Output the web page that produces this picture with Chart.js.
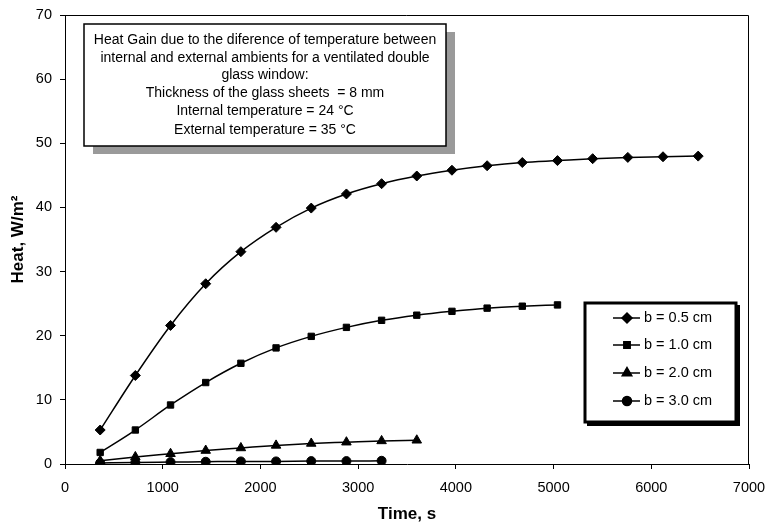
<!DOCTYPE html>
<html>
<head>
<meta charset="utf-8">
<script src="https://cdn.jsdelivr.net/npm/chart.js@4/dist/chart.umd.min.js"></script>
<style>
  html, body { margin: 0; padding: 0; background: #fff; }
  #wrap { width: 770px; height: 528px; position: relative; }
</style>
</head>
<body>
<div id="wrap"><canvas id="chart" width="770" height="528"></canvas></div>
<script>
// Time steps (s) at which heat gain was evaluated
const timeS = [360, 720, 1080, 1440, 1800, 2160, 2520, 2880, 3240, 3600,
               3960, 4320, 4680, 5040, 5400, 5760, 6120, 6480];

// Heat gain (W/m²) for each air-gap width b
const heatB05 = [5.3, 13.8, 21.6, 28.1, 33.1, 36.9, 39.9, 42.1, 43.7, 44.9,
                 45.8, 46.5, 47.0, 47.3, 47.6, 47.8, 47.9, 48.0];
const heatB10 = [1.8, 5.3, 9.2, 12.7, 15.7, 18.1, 19.9, 21.3, 22.4, 23.2,
                 23.8, 24.3, 24.6, 24.8];
const heatB20 = [0.5, 1.1, 1.6, 2.1, 2.5, 2.9, 3.2, 3.4, 3.6, 3.7];
const heatB30 = [0.15, 0.25, 0.3, 0.35, 0.4, 0.4, 0.45, 0.45, 0.5];

const seriesLabels = ['b = 0.5 cm', 'b = 1.0 cm', 'b = 2.0 cm', 'b = 3.0 cm'];
const xTicks = [0, 1000, 2000, 3000, 4000, 5000, 6000, 7000];
const yTicks = [0, 10, 20, 30, 40, 50, 60, 70];

const noteLines = [
  'Heat Gain due to the diference of temperature between',
  'internal and external ambients for a ventilated double',
  'glass window:',
  'Thickness of the glass sheets  = 8 mm',
  'Internal temperature = 24 °C',
  'External temperature = 35 °C'
];

const FONT = '"Liberation Sans", Arial, Helvetica, sans-serif';

function pts(vals) {
  return vals.map((v, i) => ({ x: timeS[i], y: v }));
}

const styles = [
  { pointStyle: 'rectRot', radius: 5 },
  { pointStyle: 'rect', radius: 4.5 },
  { pointStyle: 'triangle', radius: 5.5 },
  { pointStyle: 'circle', radius: 4.5 }
];

const datasets = [heatB05, heatB10, heatB20, heatB30].map((vals, k) => ({
  label: seriesLabels[k],
  data: pts(vals),
  borderColor: '#000',
  backgroundColor: '#000',
  borderWidth: 1.5,
  pointStyle: styles[k].pointStyle,
  pointRadius: styles[k].radius,
  pointBackgroundColor: '#000',
  pointBorderColor: '#000',
  pointBorderWidth: 1,
  cubicInterpolationMode: 'monotone',
  fill: false
}));

// Plot frame, note box and legend box
const decorations = {
  id: 'decorations',
  afterDatasetsDraw(chart) {
    const { ctx, chartArea: a } = chart;
    ctx.save();
    // top and right frame of the plot area
    ctx.strokeStyle = '#000';
    ctx.lineWidth = 1;
    ctx.beginPath();
    ctx.moveTo(a.left, a.top + 0.5);
    ctx.lineTo(a.right - 0.5, a.top + 0.5);
    ctx.lineTo(a.right - 0.5, a.bottom);
    ctx.stroke();

    // note box with grey drop shadow
    const nb = { x: 84, y: 24, w: 362, h: 122 };
    ctx.fillStyle = '#9a9a9a';
    ctx.fillRect(nb.x + 9, nb.y + 8, nb.w, nb.h);
    ctx.fillStyle = '#fff';
    ctx.fillRect(nb.x, nb.y, nb.w, nb.h);
    ctx.lineWidth = 1.5;
    ctx.strokeStyle = '#000';
    ctx.strokeRect(nb.x, nb.y, nb.w, nb.h);
    ctx.fillStyle = '#000';
    ctx.font = '14px ' + FONT;
    ctx.textAlign = 'center';
    ctx.textBaseline = 'middle';
    const lineY = [40, 58, 75, 93, 111, 130];
    noteLines.forEach((t, i) => ctx.fillText(t, nb.x + nb.w / 2, lineY[i]));

    // legend box with heavy border
    const lb = { x: 585, y: 303, w: 151, h: 119 };
    ctx.fillStyle = '#000';
    ctx.fillRect(lb.x + 2, lb.y + 2, lb.w + 2, lb.h + 2);
    ctx.fillStyle = '#fff';
    ctx.fillRect(lb.x, lb.y, lb.w, lb.h);
    ctx.lineWidth = 3;
    ctx.strokeStyle = '#000';
    ctx.strokeRect(lb.x, lb.y, lb.w, lb.h);

    const rowY = [318, 345, 373, 401];
    chart.data.datasets.forEach((ds, i) => {
      const y = rowY[i];
      ctx.strokeStyle = '#000';
      ctx.lineWidth = 1.5;
      ctx.beginPath();
      ctx.moveTo(613, y);
      ctx.lineTo(640, y);
      ctx.stroke();
      Chart.helpers.drawPoint(ctx, {
        pointStyle: ds.pointStyle,
        radius: ds.pointRadius,
        rotation: 0,
        borderWidth: 1
      }, 627, y);
      ctx.fillStyle = '#000';
      ctx.fill();
      ctx.font = '14.5px ' + FONT;
      ctx.textAlign = 'left';
      ctx.textBaseline = 'middle';
      ctx.fillText(ds.label, 644, y);
    });
    ctx.restore();
  }
};

new Chart(document.getElementById('chart'), {
  type: 'line',
  data: { datasets },
  options: {
    responsive: false,
    animation: false,
    layout: { padding: { top: 15, right: 21, left: 0, bottom: 0 } },
    plugins: {
      legend: { display: false },
      tooltip: { enabled: false }
    },
    scales: {
      x: {
        type: 'linear',
        min: 0,
        max: 7000,
        afterBuildTicks(s) { s.ticks = xTicks.map(v => ({ value: v })); },
        afterFit(s) { s.height = 64; s.paddingLeft = 0; s.paddingRight = 0; },
        grid: { drawOnChartArea: false, drawTicks: true, tickLength: 5, color: '#000' },
        border: { color: '#000', width: 1 },
        ticks: {
          color: '#000',
          font: { family: FONT, size: 14.5 },
          padding: 10,
          maxRotation: 0,
          callback: v => String(v)
        },
        title: {
          display: true,
          text: 'Time, s',
          color: '#000',
          font: { family: FONT, size: 17, weight: 'bold' },
          padding: { top: 4, bottom: 3 }
        }
      },
      y: {
        min: 0,
        max: 70,
        afterBuildTicks(s) { s.ticks = yTicks.map(v => ({ value: v })); },
        afterFit(s) { s.width = 65; s.paddingTop = 0; s.paddingBottom = 0; },
        grid: { drawOnChartArea: false, drawTicks: true, tickLength: 5, color: '#000' },
        border: { color: '#000', width: 1 },
        ticks: {
          color: '#000',
          font: { family: FONT, size: 14.5 },
          padding: 8,
          callback: v => String(v)
        },
        title: {
          display: true,
          text: 'Heat, W/m²',
          color: '#000',
          font: { family: FONT, size: 17, weight: 'bold' },
          padding: { top: 8, bottom: 4 }
        }
      }
    }
  },
  plugins: [decorations]
});
</script>
</body>
</html>
